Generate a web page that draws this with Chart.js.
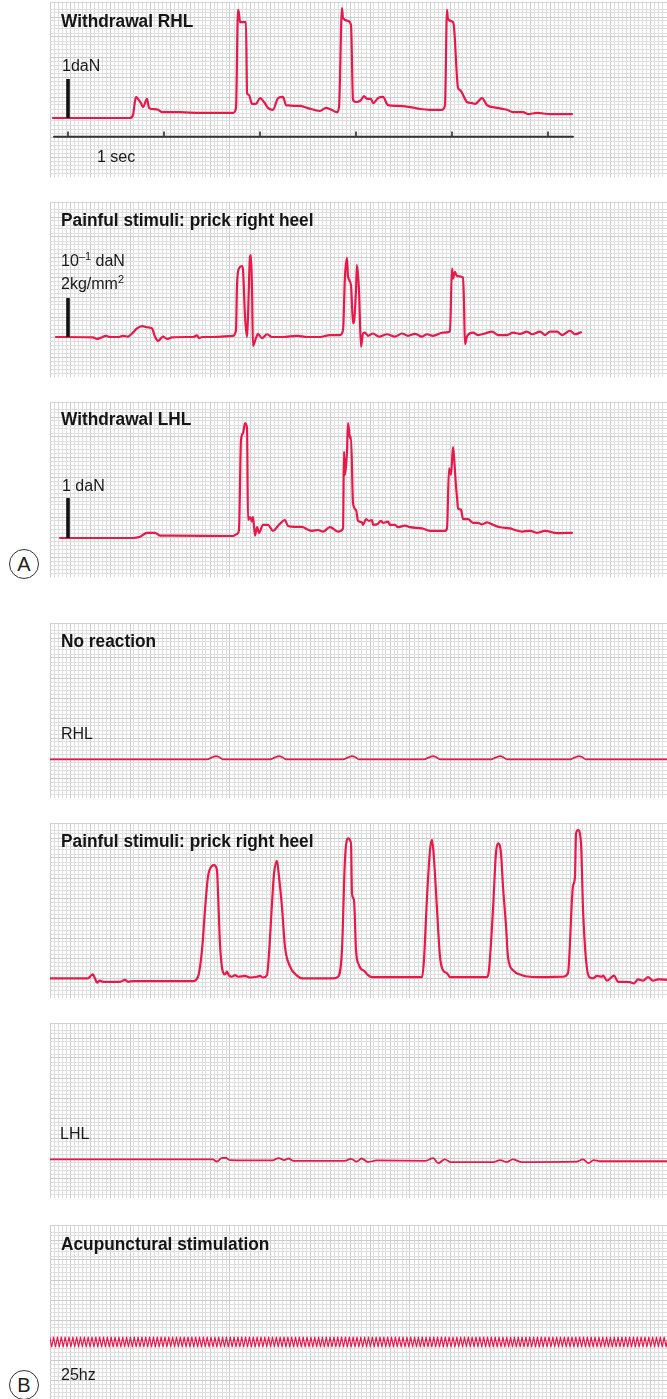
<!DOCTYPE html>
<html><head><meta charset="utf-8">
<script src="https://cdn.jsdelivr.net/npm/chart.js@4.4.0/dist/chart.umd.min.js"></script>
<style>
html,body{margin:0;padding:0;background:#fff;}
body{width:667px;height:1399px;position:relative;overflow:hidden;font-family:"Liberation Sans",Arial,sans-serif;color:#1a1a1a;}
.panel{position:absolute;left:50px;width:617px;height:175px;}
.panel canvas{position:absolute;left:0;top:0;}
.t{position:absolute;font-weight:bold;font-size:18px;line-height:1;white-space:nowrap;transform:scaleX(0.96);transform-origin:0 0;z-index:2;color:#151515;}
.l{position:absolute;font-size:16px;line-height:1;white-space:nowrap;z-index:2;}
.sup{font-size:11px;position:relative;top:-6px;}
.circ{position:absolute;width:28px;height:28px;border:1px solid #333;border-radius:50%;font-size:20px;line-height:28px;text-align:center;color:#222;}
</style>
</head><body>

<div class="panel" id="pA1" style="top:2px"><canvas id="cA1" width="617" height="175"></canvas>
  <div class="t" style="left:11px;top:9.8px">Withdrawal RHL</div>
  <div class="l" style="left:12px;top:55.5px">1daN</div>
  <div class="l" style="left:47px;top:146.5px">1 sec</div>
</div>
<div class="panel" id="pA2" style="top:202px"><canvas id="cA2" width="617" height="175"></canvas>
  <div class="t" style="left:11px;top:8.8px">Painful stimuli: prick right heel</div>
  <div class="l" style="left:11px;top:50.5px">10<span class="sup">–1</span> daN</div>
  <div class="l" style="left:11px;top:73.5px">2kg/mm<span class="sup">2</span></div>
</div>
<div class="panel" id="pA3" style="top:402px"><canvas id="cA3" width="617" height="175"></canvas>
  <div class="t" style="left:11px;top:8.3px">Withdrawal LHL</div>
  <div class="l" style="left:12px;top:75.5px">1 daN</div>
</div>
<div class="circ" style="left:9px;top:549px">A</div>

<div class="panel" id="pB1" style="top:623px"><canvas id="cB1" width="617" height="175"></canvas>
  <div class="t" style="left:11px;top:8.8px">No reaction</div>
  <div class="l" style="left:11px;top:102.5px">RHL</div>
</div>
<div class="panel" id="pB2" style="top:823px"><canvas id="cB2" width="617" height="175"></canvas>
  <div class="t" style="left:11px;top:8.8px">Painful stimuli: prick right heel</div>
</div>
<div class="panel" id="pB3" style="top:1023px"><canvas id="cB3" width="617" height="175"></canvas>
  <div class="l" style="left:10px;top:102.5px">LHL</div>
</div>
<div class="panel" id="pB4" style="top:1225px"><canvas id="cB4" width="617" height="175"></canvas>
  <div class="t" style="left:11px;top:9.8px">Acupunctural stimulation</div>
  <div class="l" style="left:11px;top:141.5px">25hz</div>
</div>
<div class="circ" style="left:9px;top:1370px">B</div>

<script>
// ---------- DATA (time in seconds, force in the units of each strip's scale bar) ----------
// A – Withdrawal RHL (daN)
const a1Time = [-0.156,0.646,0.677,0.708,0.729,0.760,0.781,0.823,0.844,0.875,0.938,0.979,1.167,1.375,1.719,1.750,1.771,1.781,1.792,1.854,1.865,1.885,1.917,1.958,2.000,2.042,2.083,2.135,2.188,2.240,2.271,2.417,2.490,2.625,2.688,2.729,2.802,2.823,2.854,2.865,2.917,2.948,2.969,3.000,3.052,3.083,3.115,3.156,3.177,3.229,3.281,3.333,3.427,3.563,3.667,3.771,3.896,3.927,3.948,3.958,4.010,4.021,4.063,4.083,4.156,4.208,4.240,4.313,4.365,4.469,4.573,4.635,4.740,4.792,4.885,5.021,5.250];
const a1Force = [0,0,0.08,0.54,0.49,0.38,0.28,0.49,0.26,0.23,0.21,0.15,0.15,0.13,0.13,0.26,2.77,2.69,2.46,2.46,0.64,0.59,0.36,0.36,0.51,0.41,0.26,0.21,0.51,0.54,0.33,0.31,0.26,0.18,0.26,0.23,0.15,0.28,2.82,2.56,2.49,2.38,0.46,0.41,0.46,0.56,0.49,0.49,0.38,0.51,0.54,0.33,0.31,0.28,0.23,0.21,0.21,0.33,2.77,2.54,2.46,2.33,0.77,0.72,0.41,0.38,0.36,0.51,0.33,0.26,0.21,0.15,0.15,0.10,0.13,0.10,0.10];

// A – Painful stimuli: prick right heel (10^-1 daN)
const a2Time = [-0.125,0.260,0.302,0.333,0.396,0.438,0.521,0.573,0.625,0.667,0.719,0.771,0.823,0.875,0.906,0.938,0.990,1.031,1.083,1.240,1.302,1.344,1.365,1.396,1.510,1.719,1.750,1.760,1.781,1.813,1.823,1.844,1.865,1.875,1.896,1.906,1.917,1.927,1.958,1.979,2.021,2.073,2.125,2.240,2.385,2.490,2.625,2.729,2.833,2.865,2.885,2.906,2.917,2.948,2.969,2.979,3.000,3.010,3.031,3.052,3.073,3.094,3.125,3.177,3.240,3.323,3.406,3.479,3.542,3.615,3.688,3.740,3.802,3.906,3.979,4.000,4.010,4.031,4.052,4.115,4.125,4.135,4.156,4.219,4.271,4.344,4.417,4.479,4.573,4.635,4.708,4.781,4.833,4.917,4.969,5.021,5.094,5.146,5.229,5.281,5.344];
const a2Force = [0,-0.01,-0.05,-0.03,0.03,0,0,0.03,0.01,0.09,0.22,0.28,0.25,0.22,0.01,-0.10,0.01,-0.05,-0.01,0,0,0.04,-0.03,0,0,0.03,0.18,1.29,1.76,1.82,1.72,0.52,0,0.52,2.06,2.10,1.20,-0.23,-0.03,0.08,-0.03,0.07,0,0,0.03,0,0,0.05,0.05,0.18,1.55,2.03,1.55,1.33,0.35,0.39,1.21,1.85,1.21,-0.25,0.09,0.11,0.03,0.09,0.01,0.07,0.01,0.09,0.03,0.08,0.01,0.07,0.03,0.11,0.14,1.76,1.50,1.67,1.56,1.53,0.86,-0.18,0.01,0.11,0.05,0.09,0.14,0.05,0.05,0.11,0.08,0.14,0.07,0.14,0.05,0.14,0.14,0.05,0.16,0.07,0.12];

// A – Withdrawal LHL (daN)
const a3Time = [-0.083,0.677,0.750,0.823,0.906,0.958,1.094,1.719,1.760,1.781,1.802,1.823,1.844,1.865,1.875,1.896,1.917,1.927,1.948,1.969,1.990,2.031,2.083,2.135,2.198,2.260,2.292,2.365,2.438,2.490,2.542,2.604,2.656,2.729,2.813,2.865,2.875,2.885,2.906,2.917,2.938,2.948,2.969,3.000,3.021,3.063,3.073,3.104,3.135,3.167,3.177,3.219,3.260,3.281,3.333,3.354,3.406,3.438,3.510,3.563,3.688,3.771,3.927,3.948,3.969,3.990,4.010,4.021,4.042,4.052,4.063,4.094,4.115,4.167,4.219,4.271,4.313,4.365,4.427,4.500,4.604,4.656,4.729,4.813,4.885,4.969,5.094,5.250];
const a3Force = [0,0,0.03,0.13,0.13,0.06,0.06,0.05,0.10,0.20,2.45,2.62,2.87,2.74,0.45,0.52,0.41,0.53,0.06,0.27,0.13,0.33,0.33,0.18,0.33,0.45,0.30,0.28,0.28,0.22,0.18,0.20,0.16,0.27,0.16,0.24,2.16,1.58,2.16,2.87,2.49,2.53,0.87,0.70,0.43,0.39,0.33,0.47,0.43,0.45,0.33,0.34,0.43,0.38,0.41,0.33,0.33,0.27,0.31,0.27,0.24,0.18,0.18,0.24,1.74,1.58,2.27,2.03,1.28,1.03,0.74,0.71,0.47,0.47,0.38,0.38,0.34,0.39,0.33,0.27,0.24,0.20,0.16,0.18,0.13,0.18,0.12,0.13];

// B – No reaction, RHL
const b1Time = [-0.19,1.448,1.500,1.542,1.573,1.615,2.104,2.156,2.198,2.229,2.271,2.865,2.917,2.958,2.990,3.031,3.708,3.760,3.802,3.833,3.875,4.406,4.458,4.500,4.531,4.573,5.229,5.281,5.323,5.354,5.396,6.25];
const b1Force = [0,0,0.05,0.08,0.06,0,0,0.05,0.08,0.06,0,0,0.05,0.08,0.06,0,0,0.05,0.08,0.06,0,0,0.05,0.08,0.06,0,0,0.05,0.08,0.06,0,0];

// B – Painful stimuli: prick right heel
const b2Time = [-0.19,0.208,0.240,0.260,0.281,0.302,0.333,0.365,0.542,0.594,0.625,0.677,1.302,1.354,1.396,1.427,1.458,1.500,1.521,1.552,1.563,1.583,1.615,1.635,1.656,1.677,1.708,1.740,1.771,1.844,1.896,1.969,2.000,2.031,2.073,2.094,2.125,2.146,2.177,2.198,2.229,2.260,2.313,2.385,2.438,2.760,2.813,2.854,2.885,2.917,2.948,2.958,2.979,3.000,3.031,3.094,3.125,3.167,3.688,3.708,3.740,3.771,3.792,3.813,3.844,3.875,3.906,3.948,3.979,4.365,4.385,4.427,4.458,4.479,4.510,4.531,4.563,4.583,4.635,4.729,4.813,4.948,5.156,5.208,5.260,5.281,5.292,5.313,5.344,5.365,5.396,5.427,5.469,5.510,5.563,5.573,5.615,5.688,5.729,5.781,5.854,5.896,5.938,5.990,6.042,6.094,6.146,6.25];
const b2Force = [0,0,0.07,0.10,0,-0.11,-0.06,-0.09,-0.09,-0.04,-0.09,-0.07,-0.07,0.04,0.73,1.75,2.60,2.88,2.90,2.77,2.17,0.89,0.15,0.10,0.17,0.07,0.04,0.08,0.04,0.06,0.02,0.04,0.06,0.02,0.08,0.64,1.92,2.68,3.01,2.60,1.83,0.81,0.30,0.07,0,0,0.04,0.73,3.04,3.59,3.46,2.17,2.01,0.73,0.34,0.17,0.08,0.03,0.03,0.47,2.09,3.29,3.55,3.04,1.76,0.55,0.21,0.13,0.03,0.03,0.21,1.76,3.21,3.46,3.21,2.36,1.33,0.55,0.21,0.08,0.04,0.03,0.04,0.13,2.36,2.60,3.71,3.80,3.46,1.76,0.47,0.04,0,0.06,0.04,0.07,-0.06,0.07,-0.09,-0.09,-0.10,-0.13,-0.03,-0.06,0.03,-0.06,-0.03,-0.04];

// B – LHL
const b3Time = [-0.19,1.508,1.552,1.597,1.641,1.685,2.128,2.195,2.253,2.297,2.350,2.882,2.948,3.006,3.059,3.125,3.215,3.724,3.804,3.857,3.924,3.990,4.433,4.500,4.567,4.633,4.722,5.298,5.365,5.422,5.475,5.542,6.25];
const b3Force = [0,0,-0.06,0.03,0.04,-0.02,-0.03,0.03,-0.02,0.02,-0.04,-0.04,0.01,-0.06,0.02,-0.07,-0.03,-0.04,0.03,-0.10,0,-0.07,-0.07,-0.02,-0.07,0,-0.07,-0.06,0,-0.10,-0.02,-0.05,-0.05];

// B – Acupunctural stimulation, 25 Hz (successive peaks and troughs, relative amplitude)
const b4Signal = [
 1,-1,1,-1,1,-1,1,-1,1,-1,1,-1,1,-1,1,-1,1,-1,1,-1,
 1,-1,1,-1,1,-1,1,-1,1,-1,1,-1,1,-1,1,-1,1,-1,1,-1,
 1,-1,1,-1,1,-1,1,-1,1,-1,1,-1,1,-1,1,-1,1,-1,1,-1,
 1,-1,1,-1,1,-1,1,-1,1,-1,1,-1,1,-1,1,-1,1,-1,1,-1,
 1,-1,1,-1,1,-1,1,-1,1,-1,1,-1,1,-1,1,-1,1,-1,1,-1,
 1,-1,1,-1,1,-1,1,-1,1,-1,1,-1,1,-1,1,-1,1,-1,1,-1,
 1,-1,1,-1,1,-1,1,-1,1,-1,1,-1,1,-1,1,-1,1,-1,1,-1,
 1,-1,1,-1,1,-1,1,-1,1,-1,1,-1,1,-1,1,-1,1,-1,1,-1,
 1,-1,1,-1,1,-1,1,-1,1,-1,1,-1,1,-1,1,-1,1,-1,1,-1,
 1,-1,1,-1,1,-1,1,-1,1,-1,1,-1,1,-1,1,-1,1,-1,1,-1,
 1,-1,1,-1,1,-1,1,-1,1,-1,1,-1,1,-1,1,-1,1,-1,1,-1,
 1,-1,1,-1,1,-1,1,-1,1,-1,1,-1,1,-1,1,-1,1,-1,1,-1,
 1,-1,1,-1,1,-1,1,-1,1,-1,1,-1,1,-1,1,-1,1,-1,1,-1,
 1,-1,1,-1,1,-1,1,-1,1,-1,1,-1,1,-1,1,-1,1,-1,1,-1,
 1,-1,1,-1,1,-1,1,-1,1,-1,1,-1,1,-1,1,-1,1,-1,1,-1,
 1,-1,1,-1,1,-1,1,-1,1,-1,1,-1,1,-1,1,-1,1,-1,1,-1,
 1,-1,1,-1,1,-1,1,-1,1,-1,1,-1,1,-1,1,-1,1,-1,1,-1
];
const b4Period = 0.04; // 25 Hz

// time axis of strip A (seconds) and calibration bars
const secTicks = [0,1,2,3,4,5];
const timeAxisSpan = [-0.146,5.26];
const scaleBar = [0,1];

// ---------- RENDERING ----------
const RED = '#e8184a';
const X_MIN = -0.1875, X_MAX = 6.2396;
const W = 617, H = 175, CELL = 4;

function pts(ts, vs){ return ts.map((t,i)=>({x:t, y:vs[i]})); }
function trace(ts, vs, w){ return {data:pts(ts,vs), borderColor:RED, borderWidth:w, pointRadius:0, cubicInterpolationMode:'monotone', fill:false, order:2}; }
function bar(){ return {data:scaleBar.map(v=>({x:0,y:v})), borderColor:'#111', borderWidth:3.6, borderCapStyle:'butt', pointRadius:0, tension:0, cubicInterpolationMode:'default', order:1}; }

function gridColor(ctx){
  const v = ctx.tick ? ctx.tick.value : 0;
  const r = Math.round(v);
  if (Math.abs(v - r) > 1e-6) return '#d2d2d2';
  return (r % 5 === 0) ? '#cdcdcd' : '#dedede';
}

function strip(id, base, unit, datasets){
  new Chart(document.getElementById(id), {
    type:'line',
    data:{datasets},
    options:{
      responsive:false, animation:false, devicePixelRatio:1, events:[],
      layout:{padding:0, autoPadding:false},
      plugins:{legend:{display:false}, tooltip:{enabled:false}, title:{display:false}},
      elements:{point:{radius:0}, line:{borderJoinStyle:'round', borderCapStyle:'round'}},
      scales:{
        x:{type:'linear', display:false, min:X_MIN, max:X_MAX},
        y:{type:'linear', display:false, min:-(H-base)/unit, max:base/unit},
        gx:{type:'linear', position:'bottom', min:0, max:W/CELL,
            ticks:{display:false, stepSize:1}, border:{display:false},
            grid:{drawTicks:false, lineWidth:1, color:gridColor}},
        gy:{type:'linear', position:'left', min:0, max:H/CELL,
            ticks:{display:false, stepSize:1}, border:{display:false},
            grid:{drawTicks:false, lineWidth:1, color:gridColor}}
      }
    }
  });
}

// Strip A1 with its one-second time axis
const axisY = -0.48;
strip('cA1', 116, 39, [
  trace(a1Time, a1Force, 2.2),
  bar(),
  {data:timeAxisSpan.map(t=>({x:t,y:axisY})), borderColor:'#333', borderWidth:2, pointRadius:0, tension:0, order:3},
  {data:secTicks.map(t=>({x:t,y:axisY+0.065})), showLine:false, pointStyle:'line', pointRadius:2.6, pointRotation:90, pointBorderWidth:1.5, pointBorderColor:'#222', order:3}
]);
strip('cA2', 135, 39, [trace(a2Time, a2Force, 2.2), bar()]);
strip('cA3', 136, 40, [trace(a3Time, a3Force, 2.2), bar()]);
strip('cB1', 136.3, 39, [trace(b1Time, b1Force, 1.7)]);
strip('cB2', 155.3, 39, [trace(b2Time, b2Force, 2.2)]);
strip('cB3', 136.3, 39, [trace(b3Time, b3Force, 1.8)]);
const b4Time = b4Signal.map((_, i) => -0.19 + i * b4Period / 2);
strip('cB4', 117, 5, [{data:pts(b4Time, b4Signal), borderColor:RED, borderWidth:1.2, pointRadius:0, tension:0, fill:false}]);
</script>
</body></html>
